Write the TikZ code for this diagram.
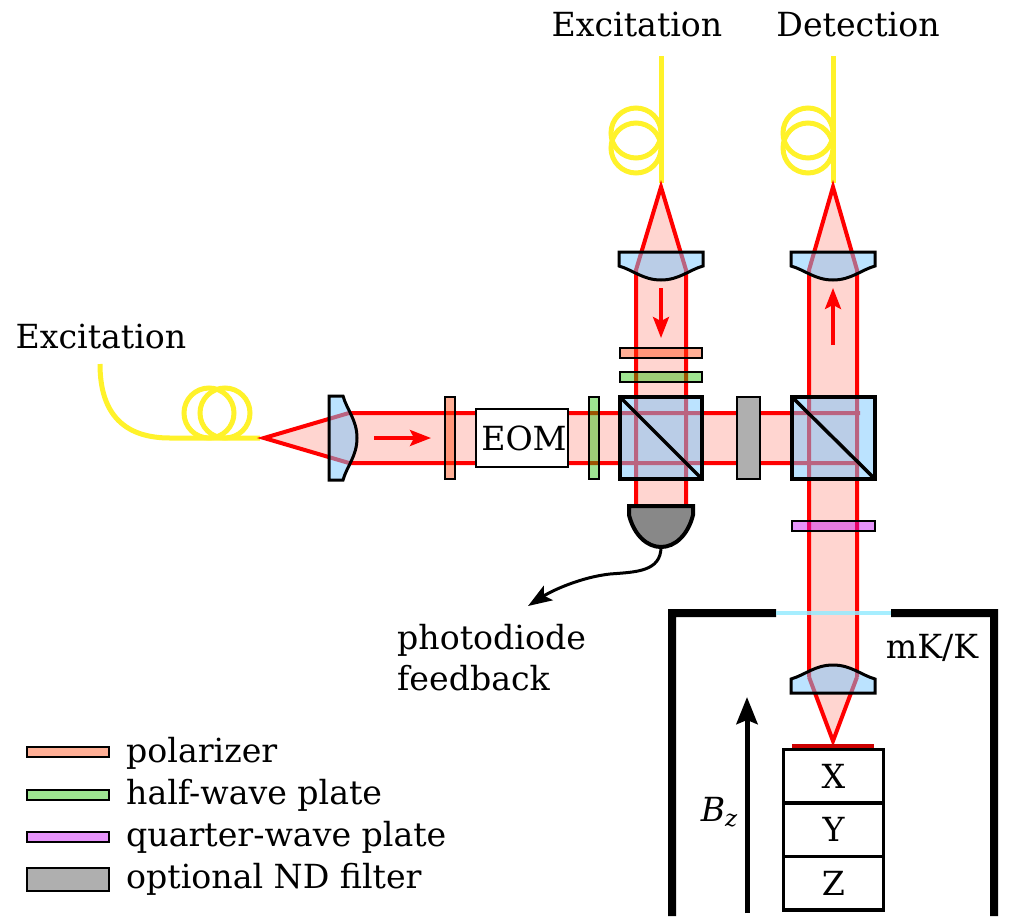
\documentclass[tikz,border=0pt]{standalone}
\usepackage{fontspec}
\setmainfont{DejaVu Serif}
\usetikzlibrary{arrows.meta}
\definecolor{fiberc}{RGB}{255,242,42}
\definecolor{beamfill}{RGB}{255,213,208}
\definecolor{glass}{RGB}{119,199,255}
\definecolor{polc}{RGB}{255,70,12}
\definecolor{hwpc}{RGB}{30,195,0}
\definecolor{qwpc}{RGB}{197,5,243}
\definecolor{ndc}{RGB}{175,175,175}
\definecolor{pdc}{RGB}{136,136,136}
\definecolor{windowc}{RGB}{150,235,255}
\tikzset{
  x=1pt,y=-1pt,
  fiber/.style={draw=fiberc,line width=5pt},
  ray/.style={draw=red,line width=4pt},
  rayarrow/.style={draw=red,line width=3.5pt,-{Stealth[length=21pt,width=16pt,inset=4pt]}},
  optic/.style={fill=glass,fill opacity=.5,draw=black,draw opacity=1,line width=3.5pt},
  lensbody/.style={optic,line width=3pt},
  plate/.style={fill opacity=.43,draw=black,draw opacity=1,line width=2pt},
  polplate/.style={plate,fill=polc},
  hwplate/.style={plate,fill=hwpc},
  qwplate/.style={plate,fill=qwpc},
  ndplate/.style={fill=ndc,draw=black,line width=2pt},
  wall/.style={fill=black,draw=none},
  lbl/.style={inner sep=0pt,font=\fontsize{33.2}{40}\selectfont},
  leg/.style={lbl,anchor=base west},
  stagebox/.style={draw=black,line width=3.5pt,fill=white},
  pics/lens/.style={code={
    \path[lensbody,line join=miter] (-42,0) -- (42,0) -- (42,14)
      .. controls (28,18) and (18,28) .. (0,28)
      .. controls (-18,28) and (-28,18) .. (-42,14) -- cycle;
  }},
  pics/coil/.style={code={
    \draw[fiber] (0,0) circle[radius=25];
    \draw[fiber] (#1) circle[radius=25];
  }},
}
\begin{document}
\begin{tikzpicture}
\useasboundingbox (0,0) rectangle (1016,921);

% fibre leads and coils
\draw[fiber] (661,56) -- (661,183);
\draw[fiber] (833,56) -- (833,183);
\pic at (636,133) {coil={0,15}};
\pic at (808,133) {coil={0,15}};
\draw[fiber] (100,364) .. controls (100,415) and (125,438) .. (170,438) -- (260,438);
\pic at (209,413) {coil={16,0}};

% beam envelopes
\fill[beamfill] (260,438) -- (349,413) -- (857,413) -- (857,463) -- (349,463) -- cycle;
\fill[beamfill] (661,183) -- (636,270) -- (636,505) -- (686,505) -- (686,270) -- cycle;
\fill[beamfill] (833,183) -- (809,270) -- (809,677) -- (814,693) -- (833,745) -- (852,693) -- (857,677) -- (857,270) -- cycle;

% beam edges
\draw[ray,line join=miter] (636,505) -- (636,270) -- (661,187) -- (686,270) -- (686,505);
\draw[ray,line join=miter] (809,677) -- (809,270) -- (833,187) -- (857,270) -- (857,677);
\draw[ray,line join=miter] (809,677) -- (833,741) -- (857,677);
\draw[ray,line join=miter] (860,413) -- (349,413) -- (264,438) -- (349,463) -- (860,463);

% lenses
\pic at (661,252) {lens};
\pic at (833,252) {lens};
\pic[rotate=180] at (833,693) {lens};
\pic[rotate=90] at (329,438) {lens};

% beam direction arrows
\coordinate (aR0) at (374,438); \coordinate (aR1) at (431,438);
\coordinate (aD0) at (661,288); \coordinate (aD1) at (661,338);
\coordinate (aU0) at (833,345); \coordinate (aU1) at (833,288);
\draw[rayarrow] (aR0) -- (aR1);
\draw[rayarrow] (aD0) -- (aD1);
\draw[rayarrow] (aU0) -- (aU1);

% wave plates and filter
\path[polplate] (445,397) rectangle (455,479);
\path[hwplate] (589,397) rectangle (599,479);
\path[polplate] (620,348) rectangle (702,358);
\path[hwplate] (620,372) rectangle (702,382);
\path[qwplate] (792,521) rectangle (875,531);
\path[ndplate] (737,397) rectangle (760,479);

% electro-optic modulator
\node[draw=black,line width=2pt,fill=white,minimum width=92pt,minimum height=58pt,inner sep=0pt] (eom) at (522,438) {};
\node[lbl] (eomtext) at (524,438) {EOM};

% beam-splitter cubes
\path[optic] (620,397) rectangle (702,479);
\draw[black,line width=3.5pt] (620,397) -- (702,479);
\path[optic] (792,397) rectangle (875,479);
\draw[black,line width=3.5pt] (792,397) -- (875,479);

% photodiode and its feedback lead
\draw[black,line width=4pt,fill=pdc] (629,506) -- (693,506) -- (693,515)
  .. controls (688,535) and (675,547) .. (661,547)
  .. controls (647,547) and (634,535) .. (629,515) -- cycle;
\coordinate (pdout) at (661,547);
\coordinate (fbend) at (528,606);
\draw[black,line width=3pt,-{Stealth[length=24pt,width=17pt,inset=5pt]}] (pdout)
  .. controls (661,572) and (635,572) .. (610,574)
  .. controls (582,577) and (553,590) .. (fbend);

% cryostat
\fill[wall] (668,916) -- (668,609) -- (776,609) -- (776,617) -- (676,617) -- (676,916) -- cycle;
\fill[wall] (998,916) -- (998,609) -- (891,609) -- (891,617) -- (990,617) -- (990,916) -- cycle;
\fill[windowc,opacity=.85] (776,611) rectangle (891,615);

% sample on the positioner stack
\node[stagebox,minimum width=100pt,minimum height=53.5pt,inner sep=0pt,lbl] (stX) at (833.5,776) {X};
\node[stagebox,minimum width=100pt,minimum height=53.5pt,inner sep=0pt,lbl] (stY) at (833.5,829.5) {Y};
\node[stagebox,minimum width=100pt,minimum height=53.5pt,inner sep=0pt,lbl] (stZ) at (833.5,883) {Z};
\fill[black] (792,747) rectangle (874,751);
\fill[red!80!black] (792,744) rectangle (874,748);

% magnetic field
\coordinate (bz0) at (747,913); \coordinate (bz1) at (747,697);
\draw[black,line width=5pt,-{Stealth[length=27pt,width=21pt,inset=4pt]}] (bz0) -- (bz1);
\node[lbl,anchor=base] (bzlabel) at (719,821) {\textit{B}{\fontsize{23}{23}\selectfont\textit{\raisebox{-5pt}{z}}}};

% labels
\node[lbl,anchor=base] (exTop) at (637,36) {Excitation};
\node[lbl,anchor=base] (detTop) at (858,36) {Detection};
\node[lbl,anchor=base] (exLeft) at (101,348) {Excitation};
\node[lbl,anchor=base west] (pdA) at (397,649) {photodiode};
\node[lbl,anchor=base west] (pdB) at (397,690) {feedback};
\node[lbl,anchor=base] (temp) at (932,658) {mK/K};

% legend
\path[polplate] (27,747) rectangle (109,757);
\path[hwplate] (27,790) rectangle (109,800);
\path[qwplate] (27,832) rectangle (109,842);
\path[ndplate] (27,868) rectangle (109,891);
\node[leg] (lg1) at (126,762) {polarizer};
\node[leg] (lg2) at (126,804) {half-wave plate};
\node[leg] (lg3) at (126,846) {quarter-wave plate};
\node[leg] (lg4) at (126,888) {optional ND filter};
\end{tikzpicture}
\end{document}
